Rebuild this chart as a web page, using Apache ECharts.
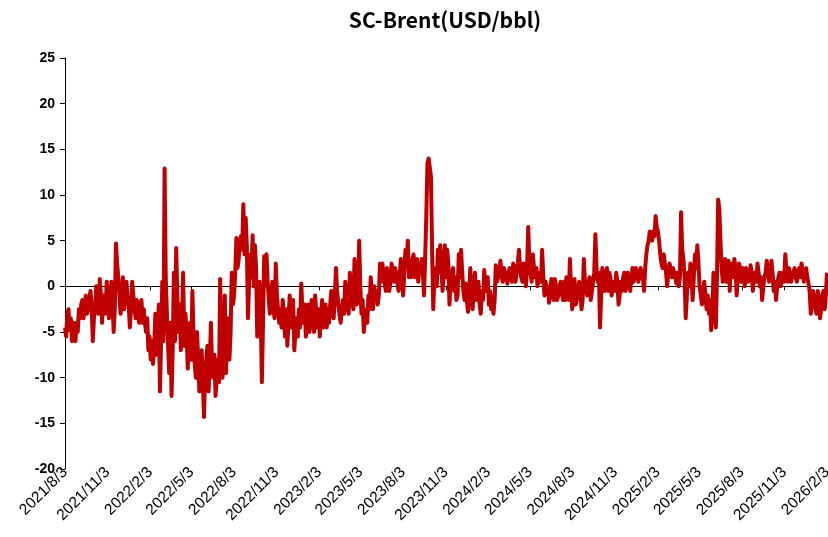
<!DOCTYPE html>
<html>
<head>
<meta charset="utf-8">
<title>SC-Brent(USD/bbl)</title>
<script src="https://cdn.jsdelivr.net/npm/echarts@6/dist/echarts.min.js"></script>
<style>
  html, body { margin: 0; padding: 0; background: #ffffff; }
  #chart { width: 828px; height: 537px; }
</style>
</head>
<body>
<div id="chart"></div>
<script>
// SC minus Brent crude spread, USD/bbl.
// Readings every 5 calendar days from 2021/8/3 (spreadYYYY), plus the
// readings halfway between them (spreadYYYYMid).
const SERIES_START = '2021/8/3';
const STEP_DAYS = 5;

const spread2021 = [
  -4.5, -3.0, -4.8, -6.0, -5.0, -4.0, -2.5, -2.0, -3.5, -1.0,
  -2.5, -0.5, -6.0, -2.5, -1.5, 0.8, -4.0, -2.0, 0.5, -3.5,
  0.5, -5.0, 4.7, 1.0, -3.0, 1.0, -1.5, -1.0, -4.5, 0.5,
  -2.5
];
const spread2021Mid = [
  -5.5, -2.5, -3.5, -4.0, -6.0, -5.0, -3.5, -1.5, -2.5, -3.0,
  -1.5, -2.0, -3.5, 0.0, -3.0, -1.0, -1.0, -3.0, -1.0, -2.0,
  -1.5, -2.5, 2.5, -1.0, -1.5, -2.5, 0.5, -2.0, -2.5, -1.0,
  -3.5
];
const spread2022 = [
  -1.5, -4.0, -1.5, -2.5, -5.0, -7.0, -8.0, -8.5, -3.0,
  -5.0, -11.5, 0.5, 12.9, -3.0, -9.5, -12.0, 1.5, 4.2, -5.0,
  -7.0, 1.5, -3.0, -9.0, -4.0, -0.5, -8.5, -5.0, -11.5, -7.0,
  -14.3, -8.0, -11.5, -4.0, -10.0, -12.0, -8.0, 0.8, -10.0, -1.0,
  -6.0, -8.0, 1.5, -1.0, 5.3, 3.0, 5.5, 9.0, 7.5, -3.5,
  3.5, 5.6, 4.5, -5.5, 0.5, -10.5, 3.3, 3.5, -1.5, -1.0,
  -2.5, 2.5, -1.0, -2.5, -1.5, -5.5, -6.5, -1.0, -3.0, -7.0,
  -3.5, -2.5, 0.3, -4.0
];
const spread2022Mid = [
  -3.0, -2.0, -4.0, -4.0, -3.5, -5.5, -6.0, -6.5, -7.5,
  -2.0, -6.0, -6.0, 1.0, -6.5, -4.0, -7.0, -6.0, -1.0, -2.0,
  -4.0, -6.5, -5.0, -6.5, -8.0, -5.5, -10.0, -8.0, -9.0, -10.5,
  -9.5, -6.5, -8.5, -9.0, -7.5, -10.0, -10.5, -6.0, -7.0, -9.5,
  -3.5, -5.0, -2.0, 1.5, 2.0, 5.0, 4.0, 3.5, 4.5, 0.5,
  1.0, 0.0, 2.0, -2.0, -3.0, -4.0, 0.0, 0.5, -3.0, 0.5,
  -3.5, -1.0, -4.0, -4.5, -3.0, -2.5, -4.0, -4.5, -1.5, -5.0,
  -5.5, -4.5, -2.5, -2.0
];
const spread2023 = [
  -5.5, -2.0, -3.0, -3.5, -1.0, -4.5, -5.5, -1.5, -3.5, -4.5,
  -4.0, -0.5, -3.5, 2.0, -2.0, -4.0, -1.5, 0.5, -2.5, 1.5,
  -1.5, 3.0, -2.0, 5.0, -3.0, -5.0, -2.5, -1.0, 1.0, -2.5,
  -1.5, -2.0, 2.5, 2.5, 0.5, 2.0, -0.5, 2.5, 0.5, 1.5,
  -0.5, 3.0, -1.0, 4.0, 5.0, 2.5, 3.0, 1.0, 3.0, 2.0,
  3.0, -1.0, 7.8, 14.0, 12.0, -2.5, 2.0, 4.0, 4.5, -0.5,
  4.5, 4.0, -2.0, 1.0, -0.5, -1.5, 3.5, 4.0, -0.5, 0.3,
  -2.8, 2.0, -2.5
];
const spread2023Mid = [
  -4.0, -5.0, -1.5, -5.0, -3.0, -2.5, -3.5, -4.5, -2.0, -2.5,
  -2.0, -3.0, -1.0, -0.5, -3.0, -2.5, -3.0, -1.0, -3.0, 0.0,
  -2.5, 0.5, -1.0, 0.0, -1.5, -3.5, -4.0, -2.5, -1.0, 0.0,
  -0.5, -1.0, 0.5, 1.5, -0.5, 1.0, 0.5, 1.5, 2.0, 0.5,
  1.0, 0.5, 1.5, 2.0, 1.0, 1.0, 3.5, 2.0, 0.5, 1.5,
  1.5, 3.0, 13.5, 13.0, 4.0, 1.0, 0.0, 1.5, 2.5, 1.0,
  1.0, 2.5, 0.5, 2.0, 1.0, -1.0, 1.0, 1.5, -1.5, -1.5,
  -0.5, -1.5, 0.0
];
const spread2024 = [
  1.5, -1.0, -2.0, -0.5, 1.8, -0.5, -2.0, -2.5, -3.0, 2.3,
  0.3, 2.8, 0.5, 2.0, 0.3, 2.0, 0.5, 2.0, 1.5, 4.0,
  1.0, 2.5, 0.0, 6.5, 1.5, 3.5, 1.0, 0.0, 1.5, 4.0,
  -1.0, -0.5, -1.8, 0.8, -1.5, 0.0, -1.0, 0.5, -1.5, -1.5,
  -0.5, 3.0, -2.5, 0.8, -1.5, 0.5, -2.5, 3.0, -0.5, 0.5,
  -1.5, 0.5, 5.7, 0.5, -4.5, 2.0, -0.5, 2.0, 1.5, -1.0,
  0.5, 1.5, -2.0, 0.5, 1.0, -0.5, 1.5, -0.5, 2.0, 1.0,
  1.5, 1.0, 1.5
];
const spread2024Mid = [
  -1.5, 0.5, -3.0, -1.5, 0.0, 1.0, -0.5, -1.0, -1.5, 0.5,
  1.5, 1.0, 2.0, 1.0, 1.5, 1.0, 2.5, 0.5, 2.5, 2.0,
  0.5, 1.5, 2.0, 2.5, 0.5, 2.0, 2.0, 1.0, 0.5, 1.0,
  0.5, 0.0, -0.5, -0.5, 0.8, -1.5, 0.0, -0.5, 0.5, 1.0,
  -1.5, 0.0, -1.0, -2.0, -0.5, 0.0, -1.5, 0.5, -1.0, 1.0,
  -0.5, 1.5, 2.0, 1.5, -1.0, 1.0, 1.0, -0.5, 1.0, 0.0,
  -0.5, 0.5, -1.0, -0.5, 1.5, 0.5, 0.5, 0.5, 0.5, 2.0,
  0.5, 2.0, 1.0
];
const spread2025 = [
  -0.5, 3.5, 5.0, 5.5, 6.0, 7.7, 6.0, 3.5, 2.0, 2.5,
  0.0, 2.5, 1.0, 2.0, 0.3, 0.0, 8.1, 3.0, -3.5, 1.5,
  2.5, -1.5, 3.5, 4.5, 0.0, -2.0, 0.5, -2.5, -3.0, -4.8,
  1.5, -4.5, 9.5, 5.0, 0.5, 3.0, 2.5, -0.5, 2.5, 3.0,
  -1.0, 2.5, 0.5, 1.0, 2.0, 0.5, 2.3, -0.5, 1.5, 2.5,
  0.0, -1.5, 1.0, 2.8, 0.5, 2.8, -0.5, -1.5, 1.0, 0.0,
  1.5, 3.5, 0.5, 1.5, 0.5, 2.0, 0.5, 2.0, 2.5, 0.5,
  2.0, 0.3, -3.0
];
const spread2025Mid = [
  2.0, 4.5, 6.0, 5.0, 5.5, 6.5, 5.0, 2.5, 3.5, 1.5,
  1.5, 2.0, 2.0, 1.0, 1.5, 1.0, 4.0, 1.0, -1.0, 0.0,
  1.0, 1.0, 2.0, 2.5, -1.0, -0.5, -1.0, -1.0, -1.5, -2.5,
  -2.0, 1.0, 8.5, 2.0, 1.5, 0.5, 2.8, 2.0, 1.0, 2.0,
  1.0, 2.0, 2.0, 0.0, 1.5, 1.0, 1.5, 1.0, 0.5, 1.5,
  1.0, 0.0, 1.5, 1.5, 1.5, 1.5, 0.5, 0.0, 1.5, 1.0,
  0.5, 1.5, 2.0, 0.5, 1.5, 1.0, 1.5, 1.0, 1.5, 1.5,
  1.0, -0.5, -1.5
];
const spread2026 = [
  -0.5, -2.5, -0.5, -3.5, -1.0, -2.5, 1.5
];
const spread2026Mid = [
  -1.5, -3.0, -1.5, -2.5, -0.5, -1.0
];

// Quarterly tick dates shown along the date axis.
const tickLabels = [
  '2021/8/3', '2021/11/3', '2022/2/3', '2022/5/3', '2022/8/3', '2022/11/3',
  '2023/2/3', '2023/5/3', '2023/8/3', '2023/11/3', '2024/2/3', '2024/5/3',
  '2024/8/3', '2024/11/3', '2025/2/3', '2025/5/3', '2025/8/3', '2025/11/3',
  '2026/2/3'
];

const yTicks = { min: -20, max: 25, interval: 5 };

const DAY_MS = 86400000;
function parseYMD(s) {
  const p = s.split('/').map(Number);
  return Date.UTC(p[0], p[1] - 1, p[2]);
}
const startMs = parseYMD(SERIES_START);
// day offset from the first reading -> 'yyyy/m/d'
function dayToLabel(day) {
  const d = new Date(startMs + Math.round(day) * DAY_MS);
  return d.getUTCFullYear() + '/' + (d.getUTCMonth() + 1) + '/' + d.getUTCDate();
}

const onStep = [].concat(spread2021, spread2022, spread2023, spread2024, spread2025, spread2026);
const between = [].concat(spread2021Mid, spread2022Mid, spread2023Mid, spread2024Mid, spread2025Mid, spread2026Mid);
const seriesData = [];
onStep.forEach(function (v, i) {
  seriesData.push([i * STEP_DAYS, v]);
  if (i < between.length) seriesData.push([i * STEP_DAYS + STEP_DAYS / 2, between[i]]);
});

const tickDays = tickLabels.map(function (s) { return Math.round((parseYMD(s) - startMs) / DAY_MS); });
const xMin = tickDays[0];
const xMax = tickDays[tickDays.length - 1];

const chart = echarts.init(document.getElementById('chart'), null, { renderer: 'canvas' });

chart.setOption({
  animation: false,
  backgroundColor: '#ffffff',
  title: {
    text: 'SC-Brent(USD/bbl)',
    left: 440,
    top: 5,
    textAlign: 'center',
    textStyle: {
      fontFamily: '"Noto Sans CJK SC", "Noto Sans", sans-serif',
      fontWeight: 'bold',
      fontSize: 21,
      color: '#000000'
    }
  },
  grid: {
    left: 65,
    right: 1,
    top: 58,
    bottom: 68,
    containLabel: false,
    outerBoundsMode: 'none'
  },
  xAxis: [
    {
      // date labels along the bottom edge
      type: 'value',
      min: xMin,
      max: xMax,
      position: 'bottom',
      axisLine: { show: false, onZero: false },
      axisTick: { show: false },
      splitLine: { show: false },
      axisLabel: {
        customValues: tickDays,
        formatter: dayToLabel,
        rotate: 45,
        margin: 1,
        color: '#000000',
        fontFamily: '"Liberation Sans", Arial, sans-serif',
        fontSize: 15.5,
        hideOverlap: false
      }
    },
    {
      // zero line with quarterly ticks
      type: 'value',
      min: xMin,
      max: xMax,
      position: 'bottom',
      axisLine: { show: true, onZero: true, lineStyle: { color: '#000000', width: 1 } },
      axisTick: {
        show: true,
        customValues: tickDays,
        length: 4,
        lineStyle: { color: '#000000', width: 1 }
      },
      axisLabel: { show: false },
      splitLine: { show: false }
    }
  ],
  yAxis: {
    type: 'value',
    min: yTicks.min,
    max: yTicks.max,
    interval: yTicks.interval,
    axisLine: { show: true, lineStyle: { color: '#000000', width: 1 } },
    axisTick: { show: true, length: 5, lineStyle: { color: '#000000' } },
    splitLine: { show: false },
    axisLabel: {
      margin: 10,
      color: '#000000',
      fontFamily: '"Liberation Sans", Arial, sans-serif',
      fontWeight: 'bold',
      fontSize: 14
    }
  },
  series: [
    {
      name: 'SC-Brent',
      type: 'line',
      xAxisIndex: 0,
      data: seriesData,
      showSymbol: false,
      symbol: 'none',
      lineStyle: { color: '#C00000', width: 4, join: 'round' },
      itemStyle: { color: '#C00000' },
      z: 3
    }
  ]
});
</script>
</body>
</html>
